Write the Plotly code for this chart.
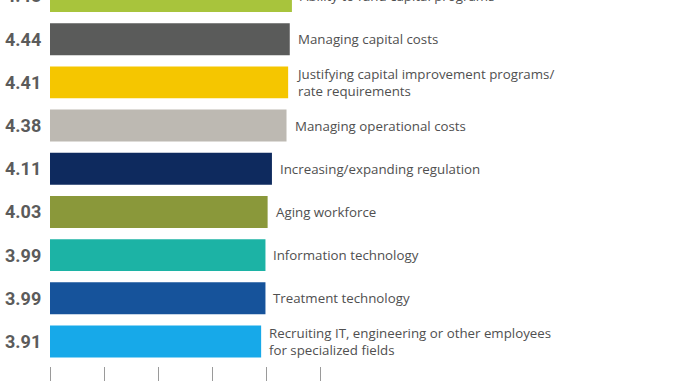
import plotly.graph_objects as go

categories = [
    "Ability to fund capital programs",
    "Managing capital costs",
    "Justifying capital improvement programs/<br>rate requirements",
    "Managing operational costs",
    "Increasing/expanding regulation",
    "Aging workforce",
    "Information technology",
    "Treatment technology",
    "Recruiting IT, engineering or other employees<br>for specialized fields",
]
values = [4.48, 4.44, 4.41, 4.38, 4.11, 4.03, 3.99, 3.99, 3.91]
value_labels = ["4.48", "4.44", "4.41", "4.38", "4.11", "4.03", "3.99", "3.99", "3.91"]
colors = ["#a8c43c", "#5a5b5a", "#f5c600", "#bdb9b2", "#0e2a5e",
          "#8a983a", "#1cb3a5", "#16539b", "#17a9e9"]
tick_values = [0, 1, 2, 3, 4, 5]

idx = list(range(len(categories)))

Y_RANGE = [8.567, 0.093]
PLOT_H = 381 - 15
PITCH = PLOT_H / (Y_RANGE[0] - Y_RANGE[1])

fig = go.Figure()
fig.add_trace(go.Bar(
    x=values, y=idx, orientation="h",
    marker=dict(color=colors, line=dict(width=0)),
    width=0.74, hoverinfo="skip",
))

# anchor labels half a row lower (always inside the axis range) and shift back up
annotations = []
for i, (v, lab, cat) in enumerate(zip(values, value_labels, categories)):
    annotations.append(dict(
        x=0, y=i + 0.5, xref="x", yref="y", text=lab, showarrow=False,
        xanchor="right", yanchor="middle", xshift=-7, yshift=PITCH / 2,
        font=dict(family="Roboto, sans-serif",
                  size=18, color="#5b5b5b", weight="bold"),
    ))
    annotations.append(dict(
        x=v, y=i + 0.5, xref="x", yref="y", text=cat, showarrow=False,
        xanchor="left", yanchor="middle", xshift=6, yshift=PITCH / 2,
        align="left",
        font=dict(family="Open Sans, sans-serif", size=13.3, color="#505050"),
    ))

fig.update_layout(
    width=678, height=381,
    margin=dict(l=50, r=0, t=0, b=15, autoexpand=False),
    paper_bgcolor="white", plot_bgcolor="white",
    showlegend=False,
    xaxis=dict(range=[0, 628 / 54], tickvals=tick_values, showticklabels=False,
               ticks="outside", ticklen=16, tickwidth=1, tickcolor="#9a9a9a",
               showgrid=False, zeroline=False, showline=False, fixedrange=True,
               automargin=False),
    yaxis=dict(range=Y_RANGE, showticklabels=False, showgrid=False,
               zeroline=False, showline=False, ticks="", automargin=False,
               fixedrange=True),
    annotations=annotations,
)

post = "document.body.style.margin = '0';"

fig.write_html("out.html", post_script=post, config={"displayModeBar": False})
